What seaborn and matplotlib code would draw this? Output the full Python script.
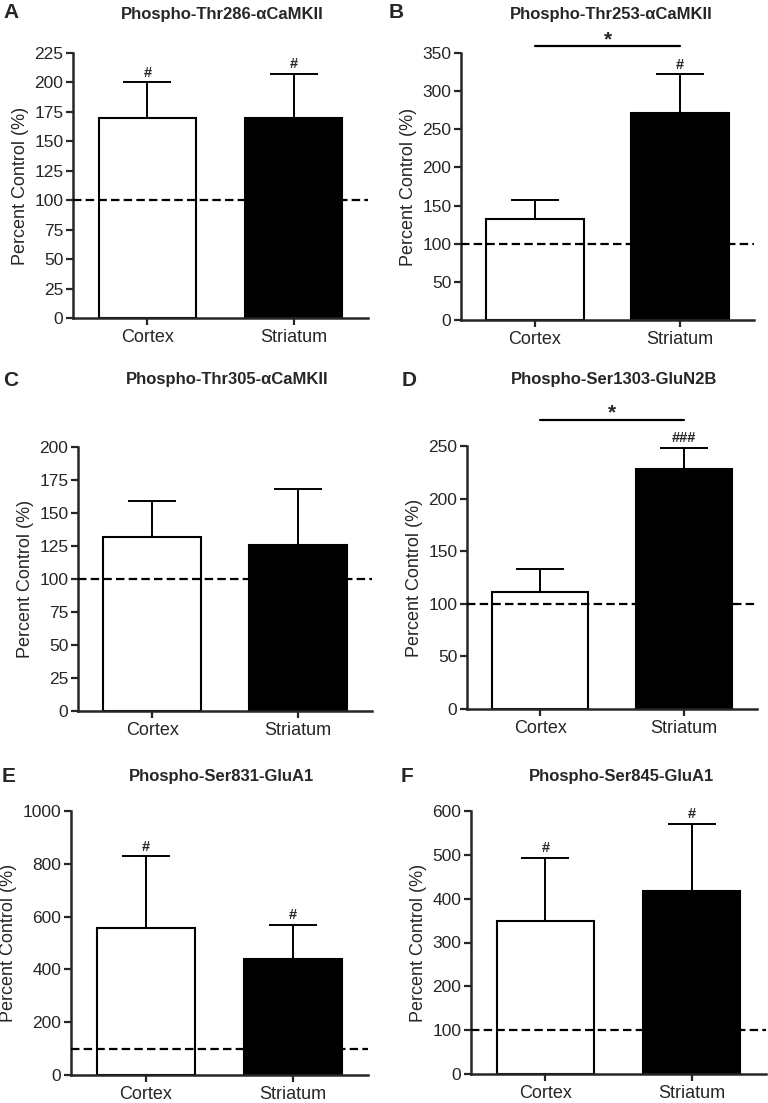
import matplotlib
matplotlib.use("Agg")
import matplotlib.pyplot as plt
import seaborn as sns
import pandas as pd

sns.set_style("ticks")
plt.rcParams['font.family'] = ['Liberation Sans', 'DejaVu Sans']

regions = ["Cortex", "Striatum"]
titles = ["Phospho-Thr286-\u03b1CaMKII", "Phospho-Thr253-\u03b1CaMKII",
          "Phospho-Thr305-\u03b1CaMKII", "Phospho-Ser1303-GluN2B",
          "Phospho-Ser831-GluA1", "Phospho-Ser845-GluA1"]
letters = ["A", "B", "C", "D", "E", "F"]

means_A = [170, 170]; sem_A = [30, 37]
means_B = [133, 272]; sem_B = [24, 50]
means_C = [132, 126]; sem_C = [27, 42]
means_D = [111, 228]; sem_D = [22, 20]
means_E = [557, 438]; sem_E = [271, 132]
means_F = [349, 418]; sem_F = [144, 152]

hash_A = ["#", "#"]
hash_B = ["", "#"]
hash_C = ["", ""]
hash_D = ["", "###"]
hash_E = ["#", "#"]
hash_F = ["#", "#"]

sig_B = 359
sig_D = 275

ymax = [225, 350, 200, 250, 1000, 600]
ystep = [25, 50, 25, 50, 200, 100]

means = [means_A, means_B, means_C, means_D, means_E, means_F]
sems = [sem_A, sem_B, sem_C, sem_D, sem_E, sem_F]
hashes = [hash_A, hash_B, hash_C, hash_D, hash_E, hash_F]
sigs = [None, sig_B, None, sig_D, None, None]

W, H = 768, 1103
fig = plt.figure(figsize=(W / 100, H / 100), dpi=100)

# axes boxes in pixels: left, right, top, bottom
boxes = [(73, 368, 53, 318), (461, 754, 53, 320),
         (78, 372, 447, 711), (467, 757, 446, 709),
         (71, 368, 811, 1075), (471, 766, 811, 1074)]
title_pos = [(222, 14), (611, 14), (227, 379), (614, 379), (222, 776), (621, 776)]
letter_pos = [(3, 13), (389, 13), (3, 380), (402, 380), (2, 776), (401, 776)]

for i in range(6):
    l, r, t, b = boxes[i]
    ax = fig.add_axes([l / W, 1 - b / H, (r - l) / W, (b - t) / H])
    df = pd.DataFrame({"Region": regions, "Value": means[i]})
    sns.barplot(data=df, x="Region", y="Value", hue="Region",
                palette=["white", "black"], edgecolor="black", linewidth=1.5,
                width=0.67, legend=False, ax=ax, zorder=2)
    ax.errorbar([0, 1], means[i], yerr=[[0, 0], sems[i]], fmt="none",
                ecolor="black", elinewidth=1.4, capsize=17, capthick=1.4, zorder=1)
    ax.axhline(100, color="black", linestyle=(0, (3.8, 1.9)), linewidth=1.6, zorder=5,
               clip_on=False)
    for j in range(2):
        if hashes[i][j]:
            ax.annotate(hashes[i][j], (j, means[i][j] + sems[i][j]),
                        xytext=(0, 2), textcoords="offset points",
                        ha="center", va="bottom", fontsize=10.5,
                        fontweight="bold", annotation_clip=False)
    if sigs[i] is not None:
        ax.plot([0, 1], [sigs[i], sigs[i]], color="black", linewidth=1.6,
                clip_on=False)
        ax.annotate("*", (0.5, sigs[i]), xytext=(0, -2), textcoords="offset points",
                    ha="center", va="bottom", fontsize=15, fontweight="bold",
                    annotation_clip=False)
    ax.set_xlim(-0.51, 1.51)
    ax.set_ylim(0, ymax[i])
    ax.set_yticks(range(0, ymax[i] + 1, ystep[i]))
    ax.set_xlabel("")
    ax.set_ylabel("Percent Control (%)", fontsize=13, labelpad=4)
    ax.tick_params(axis="y", labelsize=12.5, width=1.6, length=5, pad=2)
    ax.tick_params(axis="x", labelsize=13, width=1.6, length=5, pad=3)
    for s in ["left", "bottom"]:
        ax.spines[s].set_linewidth(1.8)
    sns.despine(ax=ax)
    tx, ty = title_pos[i]
    fig.text(tx / W, 1 - ty / H, titles[i], ha="center", va="center",
             fontsize=12, fontweight="bold")
    lx, ly = letter_pos[i]
    fig.text(lx / W, 1 - ly / H, letters[i], ha="left", va="center",
             fontsize=15, fontweight="bold")

fig.savefig("out.png", dpi=100)
